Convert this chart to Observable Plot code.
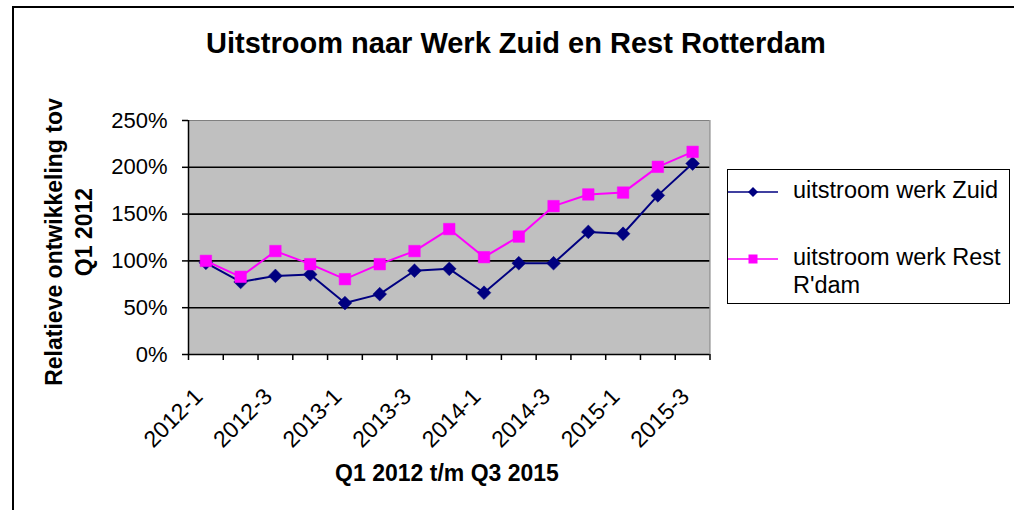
<!DOCTYPE html>
<html>
<head>
<meta charset="utf-8">
<script src="https://cdn.jsdelivr.net/npm/d3@7"></script>
<script src="https://cdn.jsdelivr.net/npm/@observablehq/plot@0.6"></script>
<style>
  html, body { margin: 0; padding: 0; background: #fff; }
  #wrap { position: relative; width: 1014px; height: 510px; overflow: hidden;
          font-family: "Liberation Sans", Arial, sans-serif; color: #000; }
  #wrap svg { position: absolute; left: 0; top: 0; }
  .abs { position: absolute; white-space: nowrap; }
  #frameBorder { position: absolute; left: 12px; top: 6px; width: 1100px; height: 600px;
                 border-left: 2px solid #000; border-top: 2px solid #000; }
  #title { left: 116px; width: 800px; top: 27px; text-align: center; font-weight: bold;
           font-size: 29px; line-height: 32px; }
  #xtitle { left: 247px; width: 400px; top: 460px; text-align: center; font-weight: bold;
            font-size: 23px; line-height: 26px; }
  .ytitle { font-weight: bold; font-size: 23px; line-height: 30px; text-align: center;
            width: 400px; height: 30px; transform: rotate(-90deg); transform-origin: center; }
  #legend { position: absolute; left: 727px; top: 169px; width: 283px; height: 135px;
            box-sizing: border-box; border: 1px solid #000; background: #fff; }
  .ltext { position: absolute; left: 65px; font-size: 23.5px; line-height: 27.7px; }
  .lsw { position: absolute; left: 9px; }
</style>
</head>
<body>
<div id="wrap"></div>
<script>
// ---- data ----
const quarters = ["2012-1","2012-2","2012-3","2012-4","2013-1","2013-2","2013-3","2013-4",
                  "2014-1","2014-2","2014-3","2014-4","2015-1","2015-2","2015-3"];
const zuid = [98, 77.5, 84, 85.5, 55, 64.5, 89.5, 91.5, 66, 97.5, 97.5, 131, 129, 170, 204];
const rest = [100, 83, 110.5, 96.5, 80.5, 96.5, 110.5, 134, 104, 126, 158.5, 171, 173, 200.5, 216.5];
const yTicks = [0, 50, 100, 150, 200, 250];
const gridValues = [50, 100, 150, 200];
const seriesNames = ["uitstroom werk Zuid", "uitstroom werk Rest R'dam"];
const labelQuarters = ["2012-1","2012-3","2013-1","2013-3","2014-1","2014-3","2015-1","2015-3"];
const titleText = "Uitstroom naar Werk Zuid en Rest Rotterdam";
const xTitle = "Q1 2012 t/m Q3 2015";
const yTitleLines = ["Relatieve ontwikkeling tov", "Q1 2012"];

const colZuid = "#000080", colRest = "#ff00ff";

const rowsZ = quarters.map((q, i) => ({idx: i + 1, q, v: zuid[i]}));
const rowsR = quarters.map((q, i) => ({idx: i + 1, q, v: rest[i]}));
const labelRows = labelQuarters.map(q => ({idx: quarters.indexOf(q) + 1, q}));
const boundaries = d3.range(0, quarters.length + 1).map(i => i + 0.5);
const n = quarters.length;

const chart = Plot.plot({
  width: 1014, height: 510,
  marginLeft: 188, marginRight: 304.5, marginTop: 120, marginBottom: 156,
  style: {fontFamily: '"Liberation Sans", Arial, sans-serif', background: "transparent", overflow: "visible", color: "#000"},
  x: {domain: [0.5, n + 0.5], axis: null},
  y: {domain: [0, 250], axis: null},
  marks: [
    Plot.frame({fill: "#c0c0c0", stroke: "none"}),
    Plot.ruleY(gridValues, {stroke: "#000", strokeWidth: 1.6}),
    Plot.ruleY([250], {stroke: "#808080", strokeWidth: 1}),
    Plot.ruleX([n + 0.5], {stroke: "#808080", strokeWidth: 1}),
    Plot.axisY({ticks: yTicks, tickSize: 6, tickPadding: 15, strokeWidth: 1.5,
                tickFormat: d => d + "%", fontSize: 22, label: null}),
    Plot.axisX({ticks: boundaries, tickSize: 6, strokeWidth: 1.5, fill: "none", label: null}),
    Plot.text(labelRows, {x: "idx", frameAnchor: "bottom", text: "q", rotate: -45,
                          textAnchor: "end", lineAnchor: "top", dx: -13.5, dy: 32, fontSize: 23}),
    Plot.ruleX([0.5], {stroke: "#000", strokeWidth: 1.5}),
    Plot.ruleY([0], {stroke: "#000", strokeWidth: 1.5}),
    Plot.line(rowsZ, {x: "idx", y: "v", stroke: colZuid, strokeWidth: 2}),
    Plot.dot(rowsZ, {x: "idx", y: "v", symbol: "diamond2", r: 6.2, fill: colZuid, stroke: colZuid, strokeWidth: 0.5}),
    Plot.line(rowsR, {x: "idx", y: "v", stroke: colRest, strokeWidth: 2}),
    Plot.dot(rowsR, {x: "idx", y: "v", symbol: "square", r: 6.5, fill: colRest, stroke: colRest, strokeWidth: 0.5})
  ]
});

const wrap = document.getElementById("wrap");
wrap.appendChild(chart);

const border = document.createElement("div");
border.id = "frameBorder";
wrap.appendChild(border);

function addDiv(id, cls, text) {
  const d = document.createElement("div");
  if (id) d.id = id;
  d.className = cls;
  d.textContent = text;
  wrap.appendChild(d);
  return d;
}
addDiv("title", "abs", titleText);
addDiv("xtitle", "abs", xTitle);

// y-axis title, two rotated lines
const yt1 = addDiv(null, "abs ytitle", yTitleLines[0]);
yt1.style.left = (54 - 200) + "px"; yt1.style.top = (241.5 - 15) + "px";
const yt2 = addDiv(null, "abs ytitle", yTitleLines[1]);
yt2.style.left = (84 - 200) + "px"; yt2.style.top = (232 - 15) + "px";

// legend
const legend = document.createElement("div");
legend.id = "legend";
wrap.appendChild(legend);
const ns = "http://www.w3.org/2000/svg";
function swatch(top, color, kind) {
  const s = document.createElementNS(ns, "svg");
  s.setAttribute("width", 50); s.setAttribute("height", 12);
  s.setAttribute("class", "lsw");
  s.style.top = (top - 6) + "px";
  const l = document.createElementNS(ns, "line");
  l.setAttribute("x1", 0); l.setAttribute("x2", 50); l.setAttribute("y1", 6); l.setAttribute("y2", 6);
  l.setAttribute("stroke", color); l.setAttribute("stroke-width", 1.6);
  s.appendChild(l);
  let m;
  if (kind === "diamond") {
    m = document.createElementNS(ns, "polygon");
    m.setAttribute("points", "25,1 30,6 25,11 20,6");
  } else {
    m = document.createElementNS(ns, "rect");
    m.setAttribute("x", 20.5); m.setAttribute("y", 1.5); m.setAttribute("width", 9); m.setAttribute("height", 9);
  }
  m.setAttribute("fill", color);
  s.appendChild(m);
  legend.appendChild(s);
}
swatch(21.5, colZuid, "diamond");
swatch(89, colRest, "square");
function ltext(top, txt) {
  const t = document.createElement("div");
  t.className = "ltext";
  t.style.top = top + "px";
  t.textContent = txt;
  legend.appendChild(t);
  return t;
}
ltext(6.5, seriesNames[0]);
ltext(74, "uitstroom werk Rest");
ltext(101.7, "R'dam");
</script>
</body>
</html>
